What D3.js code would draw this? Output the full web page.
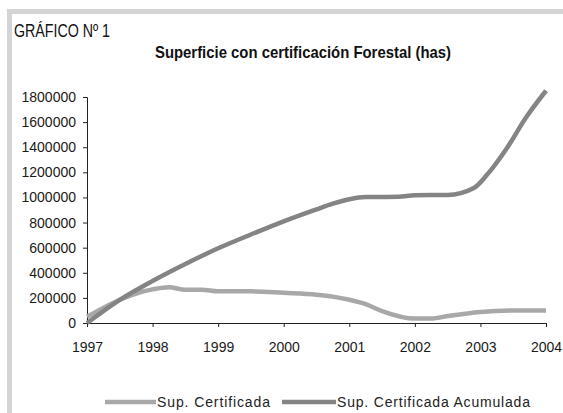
<!DOCTYPE html>
<html><head><meta charset="utf-8">
<script src="https://cdn.jsdelivr.net/npm/d3@7"></script>
<style>body{margin:0;background:#fff}svg{display:block}</style>
</head><body>
<script>
const yearTicks = [1997, 1998, 1999, 2000, 2001, 2002, 2003, 2004];
const yTicks = [0, 200000, 400000, 600000, 800000, 1000000, 1200000, 1400000, 1600000, 1800000];
const seriesNames = ["Sup. Certificada", "Sup. Certificada Acumulada"];
const certX = [1997.0, 1997.25, 1997.5, 1997.75, 1998.0, 1998.25, 1998.5, 1998.75, 1999.0, 1999.5, 2000.0, 2000.5, 2000.75, 2001.0, 2001.25, 2001.5, 2002.0, 2002.25, 2002.5, 2003.0, 2003.5, 2004.0];
const certY = [50000, 120000, 185000, 235000, 268000, 285000, 265000, 265000, 252000, 252000, 240000, 225000, 210000, 185000, 150000, 95000, 35000, 35000, 55000, 88000, 100000, 100000];
const acumX = [1997.0, 1997.5, 1998.0, 1998.5, 1999.0, 1999.5, 2000.0, 2000.5, 2000.75, 2001.0, 2001.25, 2001.75, 2002.0, 2002.5, 2002.9, 2003.1, 2003.4, 2003.7, 2004.0];
const acumY = [0, 185000, 335000, 470000, 595000, 705000, 810000, 905000, 950000, 985000, 1003000, 1005000, 1018000, 1020000, 1075000, 1180000, 1390000, 1640000, 1850000];

const W = 563, H = 413;
const svg = d3.select("body").append("svg").attr("width", W).attr("height", H);
const sans = "'Liberation Sans',Arial,sans-serif";

// frame bands
svg.append("rect").attr("x", 7).attr("y", 9).attr("width", W - 7).attr("height", 5).attr("fill", "#d4d4d4");
svg.append("rect").attr("x", 7).attr("y", 9).attr("width", 5).attr("height", H - 9).attr("fill", "#d4d4d4");

svg.append("text").attr("x", 14).attr("y", 37).attr("font-family", sans).attr("font-size", 17.5)
  .attr("textLength", 96).attr("lengthAdjust", "spacingAndGlyphs")
  .attr("fill", "#111").text("GRÁFICO Nº 1");
svg.append("text").attr("x", 155).attr("y", 58).attr("font-family", sans)
  .attr("font-weight", "bold").attr("font-size", 17).attr("fill", "#111")
  .attr("textLength", 296).attr("lengthAdjust", "spacingAndGlyphs")
  .text("Superficie con certificación Forestal (has)");

const x = d3.scaleLinear().domain([1997, 2004]).range([87, 546]);
const y = d3.scaleLinear().domain([0, 1800000]).range([323, 97]);

const xAxis = svg.append("g").attr("transform", "translate(0,323)")
  .call(d3.axisBottom(x).tickValues(yearTicks).tickFormat(d3.format("d")).tickSize(4).tickPadding(15));
const yAxis = svg.append("g").attr("transform", "translate(87,0)")
  .call(d3.axisLeft(y).tickValues(yTicks).tickFormat(d3.format("d")).tickSize(4).tickPadding(7));
[xAxis, yAxis].forEach(g => {
  g.select(".domain").attr("stroke", "#222");
  g.selectAll(".tick line").attr("stroke", "#222");
  g.selectAll("text").attr("font-family", sans).attr("font-size", 14).attr("fill", "#1a1a1a");
});

const line = d3.line().x(d => x(d[0])).y(d => y(d[1])).curve(d3.curveMonotoneX);
const certData = certX.map((v, i) => [v, certY[i]]);
const acumData = acumX.map((v, i) => [v, acumY[i]]);
const colors = ["#a8a8a8", "#848484"];
svg.append("path").datum(certData).attr("d", line).attr("fill", "none").attr("stroke", colors[0]).attr("stroke-width", 4.5).attr("stroke-linejoin", "round");
svg.append("path").datum(acumData).attr("d", line).attr("fill", "none").attr("stroke", colors[1]).attr("stroke-width", 4.5).attr("stroke-linejoin", "round");

// legend
const legendItems = [{x1: 105, x2: 156, tx: 157, len: 113}, {x1: 282, x2: 336, tx: 337, len: 193}];
legendItems.forEach((l, i) => {
  svg.append("line").attr("x1", l.x1).attr("x2", l.x2).attr("y1", 402).attr("y2", 402)
    .attr("stroke", colors[i]).attr("stroke-width", 4.5);
  svg.append("text").attr("x", l.tx).attr("y", 407).attr("font-family", sans).attr("font-size", 14)
    .attr("textLength", l.len).attr("lengthAdjust", "spacing")
    .attr("fill", "#222").text(seriesNames[i]);
});
</script>
</body></html>
